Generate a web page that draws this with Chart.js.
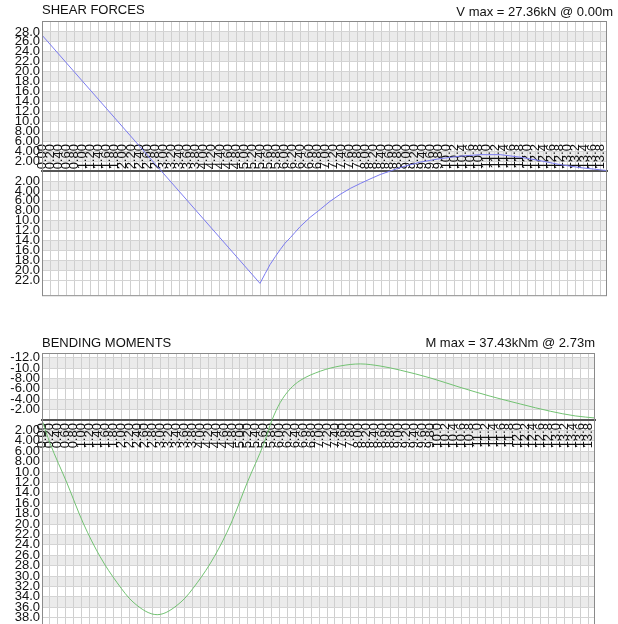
<!DOCTYPE html>
<html><head><meta charset="utf-8">
<script src="https://cdn.jsdelivr.net/npm/chart.js@4.4.1/dist/chart.umd.min.js"></script>
<style>
html,body{margin:0;padding:0;width:618px;height:624px;overflow:hidden;background:#fff;font-family:"Liberation Sans",Arial,sans-serif;}
.wrap{position:absolute;left:0;width:618px;}
.t{position:absolute;font-size:13px;line-height:15px;color:#111;white-space:nowrap;}
</style></head><body>
<div class="wrap" style="top:0;height:305px"><canvas id="c1" width="618" height="305"></canvas></div>
<div class="t" style="left:42px;top:2px">SHEAR FORCES</div>
<div class="t" style="right:5px;top:4px">V max = 27.36kN @ 0.00m</div>
<div class="wrap" style="top:330px;height:320px"><canvas id="c2" width="618" height="320"></canvas></div>
<div class="t" style="left:42px;top:335px">BENDING MOMENTS</div>
<div class="t" style="right:23px;top:335px">M max = 37.43kNm @ 2.73m</div>
<script>
// ---- data ----
const xTicks = [0,0.2,0.4,0.6,0.8,1,1.2,1.4,1.6,1.8,2,2.2,2.4,2.6,2.8,3,3.2,3.4,3.6,3.8,4,4.2,4.4,4.6,4.8,5,5.2,5.4,5.6,5.8,6,6.2,6.4,6.6,6.8,7,7.2,7.4,7.6,7.8,8,8.2,8.4,8.6,8.8,9,9.2,9.4,9.6,9.8,10,10.2,10.4,10.6,10.8,11,11.2,11.4,11.6,11.8,12,12.2,12.4,12.6,12.8,13,13.2,13.4,13.6,13.8];
const shearTicks = [28,26,24,22,20,18,16,14,12,10,8,6,4,2,-2,-4,-6,-8,-10,-12,-14,-16,-18,-20,-22];
const momentTicks = [-12,-10,-8,-6,-4,-2,2,4,6,8,10,12,14,16,18,20,22,24,26,28,30,32,34,36,38];
const shearX = [0,5.39,5.52,5.64,5.77,5.89,6.01,6.14,6.26,6.38,6.63,6.88,7.12,7.37,7.62,7.87,8.11,8.36,8.61,8.85,9.35,9.84,10.34,10.83,11.33,11.82,12.31,12.81,13.30,13.97];
const shearV = [27.36,-22.6,-20.6,-18.8,-17.2,-15.8,-14.5,-13.4,-12.3,-11.2,-9.3,-7.7,-6.1,-4.7,-3.5,-2.5,-1.6,-0.7,0.0,0.7,1.8,2.5,3.0,3.3,3.3,2.8,2.1,1.3,0.7,0.1];
const momentX = [0,0.20,0.63,1.04,1.47,1.90,2.30,2.91,3.51,3.92,4.35,4.78,5.18,5.61,5.81,6.02,6.27,6.52,7.03,7.53,8.04,8.54,9.05,9.81,10.56,11.32,12.08,12.84,13.47,13.98];
const momentM = [0,4.4,12.1,19.8,26.3,31.3,35.0,37.43,35.0,31.3,26.3,19.8,12.1,4.4,0,-3.4,-6.0,-7.6,-9.4,-10.4,-10.8,-10.4,-9.6,-8.1,-6.3,-4.6,-3.1,-1.7,-0.8,-0.4];

const FONT = {family:'"Liberation Sans", Arial, sans-serif', size:13};
const fmt = v => Math.abs(v) >= 10 ? v.toFixed(1) : v.toFixed(2);

const bandPlugin = {
  id:'bands',
  beforeDraw(chart){
    const {ctx, chartArea:a, scales:{y}} = chart;
    ctx.save();
    ctx.fillStyle = '#fff';
    ctx.fillRect(a.left,a.top,a.right-a.left,a.bottom-a.top);
    ctx.beginPath(); ctx.rect(a.left,a.top,a.right-a.left,a.bottom-a.top); ctx.clip();
    ctx.fillStyle = '#ebebeb';
    const t = y.ticks.map(k=>k.value);
    for(let i=0;i<t.length-1;i+=2){
      const p1 = y.getPixelForValue(t[i]), p2 = y.getPixelForValue(t[i+1]);
      ctx.fillRect(a.left, Math.min(p1,p2), a.right-a.left, Math.abs(p2-p1));
    }
    ctx.restore();
  },
  afterDraw(chart){
    const {ctx, chartArea:a} = chart;
    ctx.save();
    ctx.strokeStyle = '#8a8a8a'; ctx.lineWidth = 1;
    ctx.strokeRect(a.left+0.5,a.top+0.5,a.right-a.left-1,a.bottom-a.top);
    ctx.restore();
  }
};

function makeChart(id, xs, ys, color, smooth, yTicks, yMin, yMax, reverse, pad, labelPad, yLabel){
  const ds = {data: xs.map((x,i)=>({x, y: ys[i]})), borderColor: color, borderWidth:1, pointRadius:0, fill:false, tension:0};
  if (smooth) ds.cubicInterpolationMode = 'monotone';
  return new Chart(document.getElementById(id), {
    type:'line',
    data:{datasets:[ds]},
    options:{
      responsive:false, animation:false, devicePixelRatio:1,
      layout:{padding:pad, autoPadding:false},
      plugins:{legend:{display:false}, tooltip:{enabled:false}},
      scales:{
        x:{type:'linear', min:0, max:13.97, position:{y:0},
          afterBuildTicks: s => { s.ticks = xTicks.map(v=>({value:v})); },
          ticks:{autoSkip:false, minRotation:90, maxRotation:90, padding:labelPad, color:'#111', font:FONT, callback: v => fmt(v)},
          grid:{color:'#cfcfcf', drawTicks:false, lineWidth:1},
          border:{display:true, color:'#555', width:2}
        },
        y:{type:'linear', min:yMin, max:yMax, reverse,
          afterBuildTicks: s => { s.ticks = yTicks.map(v=>({value:v})); },
          afterFit: s => { s.width = 42; },
          ticks:{autoSkip:false, padding:2, color:'#111', font:FONT, callback: yLabel},
          grid:{color:'#d4d4d4', drawTicks:false, lineWidth:1},
          border:{display:false}
        }
      }
    },
    plugins:[bandPlugin]
  });
}

makeChart('c1', shearX, shearV, '#7b7bf0', false, shearTicks, -24.98, 30.2, false,
  {top:21, right:11, bottom:7, left:0}, -27, v => fmt(Math.abs(v)));
makeChart('c2', momentX, momentM, '#72c272', true, momentTicks, -12.9, 42.3, true,
  {top:23, right:23, bottom:10, left:0}, 3, v => fmt(v));
</script>
</body></html>
